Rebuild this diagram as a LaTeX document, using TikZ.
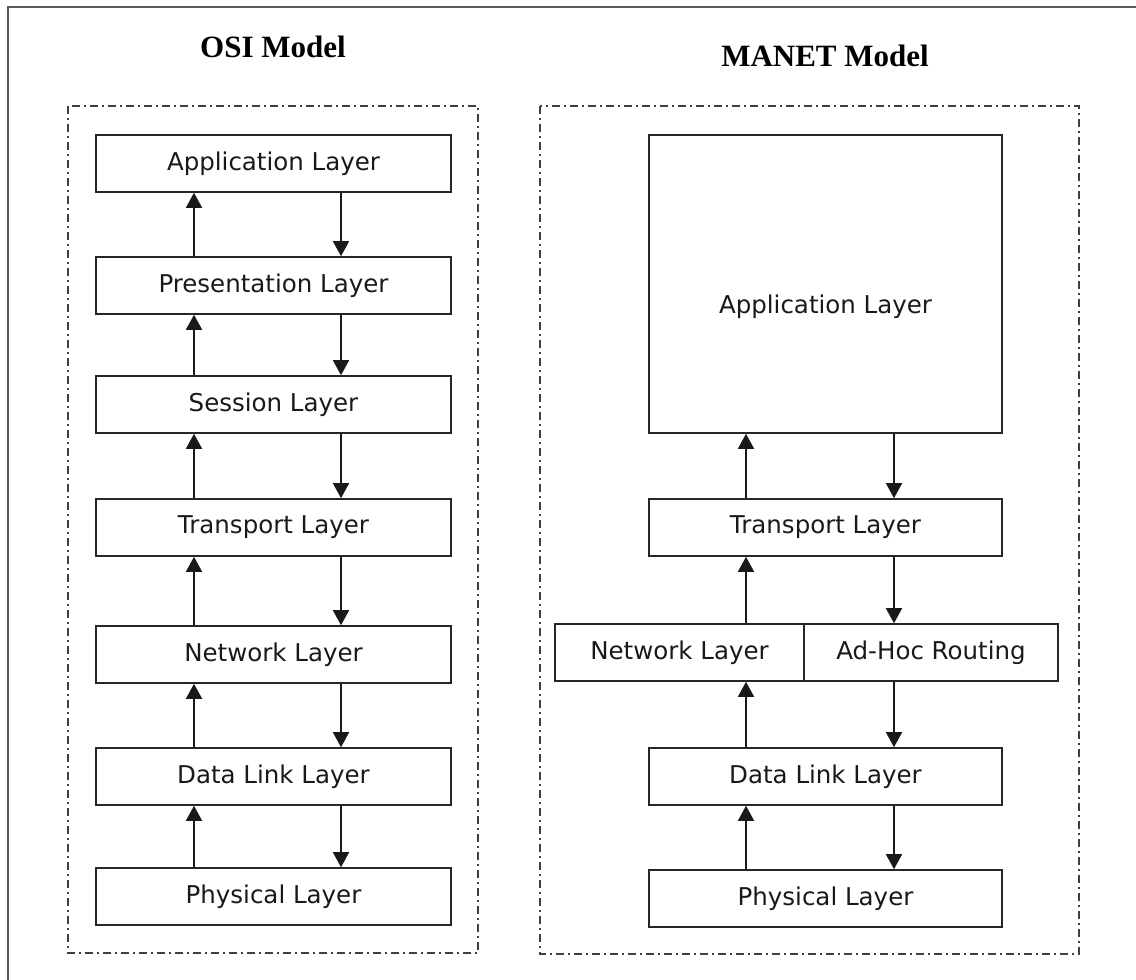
\documentclass[tikz,border=0pt]{standalone}
\usepackage{fontspec}
\setmainfont{DejaVu Sans}
\newfontfamily\titlefont{Liberation Serif}
\usetikzlibrary{arrows.meta}
\begin{document}
\begin{tikzpicture}[x=1pt,y=-1pt,
  layer/.style={draw=black!85, line width=1.6pt, rectangle, minimum height=57pt, inner sep=0pt, font=\fontsize{24.5}{28}\selectfont, text=black!90},
  frame/.style={draw=black!75, line width=1.9pt, dash pattern=on 8pt off 4pt on 2pt off 4pt},
  arr/.style={line width=1.6pt, draw=black!90, -{Triangle[length=15pt,width=16pt]}},
  ttl/.style={font=\titlefont\bfseries\fontsize{31}{34}\selectfont}
]
\useasboundingbox (0,0) rectangle (1136,980);
\clip (0,0) rectangle (1136,980);
\fill[white] (0,0) rectangle (1136,980);
\draw[black!65, line width=1.6pt] (8,7) rectangle (1150,995);

\node[ttl] (osi) at (273,47) {OSI Model};
\node[ttl] (manet) at (825,56) {MANET Model};

\draw[frame] (68,106) rectangle (478,953);
\draw[frame] (540,106) rectangle (1079,954);

% OSI stack
\node[layer, minimum width=355pt] (app) at (273.5,163.5) {Application Layer};
\node[layer, minimum width=355pt] (pres) at (273.5,285.5) {Presentation Layer};
\node[layer, minimum width=355pt] (sess) at (273.5,404.5) {Session Layer};
\node[layer, minimum width=355pt] (trans) at (273.5,527.5) {Transport Layer};
\node[layer, minimum width=355pt] (net) at (273.5,654.5) {Network Layer};
\node[layer, minimum width=355pt] (dl) at (273.5,776.5) {Data Link Layer};
\node[layer, minimum width=355pt] (phy) at (273.5,896.5) {Physical Layer};

\coordinate (lu) at (194,0);
\coordinate (ld) at (341,0);
\foreach \lo/\hi in {pres/app, sess/pres, trans/sess, net/trans, dl/net, phy/dl}{
  \draw[arr] (\lo.north -| lu) -- (\hi.south -| lu);
  \draw[arr] (\hi.south -| ld) -- (\lo.north -| ld);
}

% MANET stack
\node[layer, minimum width=353pt, minimum height=298pt] (mapp) at (825.5,284) {\smash{\raisebox{-29pt}{Application Layer}}};
\node[layer, minimum width=353pt] (mtrans) at (825.5,527.5) {Transport Layer};
\node[layer, minimum width=249pt] (mnet) at (679.5,652.5) {Network Layer};
\node[layer, minimum width=254pt] (madhoc) at (931,652.5) {Ad-Hoc Routing};
\node[layer, minimum width=353pt] (mdl) at (825.5,776.5) {Data Link Layer};
\node[layer, minimum width=353pt] (mphy) at (825.5,898.5) {Physical Layer};

\coordinate (ru) at (746,0);
\coordinate (rd) at (894,0);
\draw[arr] (mtrans.north -| ru) -- (mapp.south -| ru);
\draw[arr] (mapp.south -| rd) -- (mtrans.north -| rd);
\draw[arr] (mnet.north -| ru) -- (mtrans.south -| ru);
\draw[arr] (mtrans.south -| rd) -- (madhoc.north -| rd);
\draw[arr] (mdl.north -| ru) -- (mnet.south -| ru);
\draw[arr] (madhoc.south -| rd) -- (mdl.north -| rd);
\draw[arr] (mphy.north -| ru) -- (mdl.south -| ru);
\draw[arr] (mdl.south -| rd) -- (mphy.north -| rd);
\end{tikzpicture}
\end{document}
